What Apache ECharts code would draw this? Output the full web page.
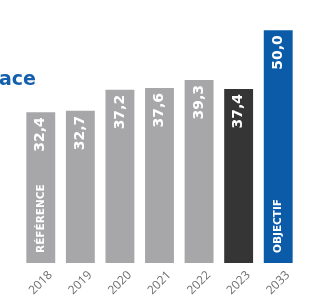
<!DOCTYPE html>
<html>
<head>
<meta charset="utf-8">
<script src="https://cdn.jsdelivr.net/npm/echarts@6/dist/echarts.min.js"></script>
<style>
  html, body { margin: 0; padding: 0; background: #fff; }
  #chart { width: 320px; height: 299px; }
</style>
</head>
<body>
<div id="chart"></div>
<script>
// données
var years = ['2018', '2019', '2020', '2021', '2022', '2023', '2033'];
var values = [32.4, 32.7, 37.2, 37.6, 39.3, 37.4, 50.0];
var notes = ['RÉFÉRENCE', '', '', '', '', '', 'OBJECTIF'];
var barColors = ['#a7a6a8', '#a7a6a8', '#a7a6a8', '#a7a6a8', '#a7a6a8', '#353535', '#0b5ba9'];

var chart = echarts.init(document.getElementById('chart'));

var option = {
  animation: false,
  title: {
    text: 'ace',
    left: -1,
    top: 71,
    padding: 0,
    textStyle: { color: '#1560ad', fontSize: 19, fontWeight: 'bold', fontFamily: 'DejaVu Sans' }
  },
  grid: { left: 21, right: 22, top: 7, bottom: 31 },
  xAxis: {
    type: 'category',
    data: years,
    axisLine: { show: false },
    axisTick: { show: false },
    axisLabel: {
      rotate: 45,
      align: 'center',
      verticalAlign: 'middle',
      margin: 20,
      color: '#6f6f6f',
      fontSize: 12,
      fontFamily: 'Open Sans'
    }
  },
  yAxis: {
    type: 'value',
    min: 0,
    max: 55,
    show: false
  },
  series: [
    {
      type: 'bar',
      barWidth: '73%',
      data: values.map(function (v, i) {
        return { value: v, itemStyle: { color: barColors[i] } };
      }),
      label: {
        show: true,
        position: 'insideTop',
        rotate: 90,
        align: 'right',
        verticalAlign: 'middle',
        distance: 5,
        color: '#fff',
        fontSize: 14,
        fontWeight: 'bold',
        fontFamily: 'DejaVu Sans',
        formatter: function (p) { return p.value.toFixed(1).replace('.', ','); }
      }
    },
    {
      type: 'bar',
      barWidth: '73%',
      barGap: '-100%',
      silent: true,
      itemStyle: { color: 'rgba(0,0,0,0)' },
      data: values,
      label: {
        show: true,
        position: 'insideBottom',
        rotate: 90,
        align: 'left',
        verticalAlign: 'middle',
        distance: 10,
        color: '#fff',
        fontSize: 10.5,
        fontWeight: 'bold',
        fontFamily: 'DejaVu Sans',
        formatter: function (p) { return notes[p.dataIndex]; }
      }
    }
  ]
};

chart.setOption(option);
</script>
</body>
</html>
